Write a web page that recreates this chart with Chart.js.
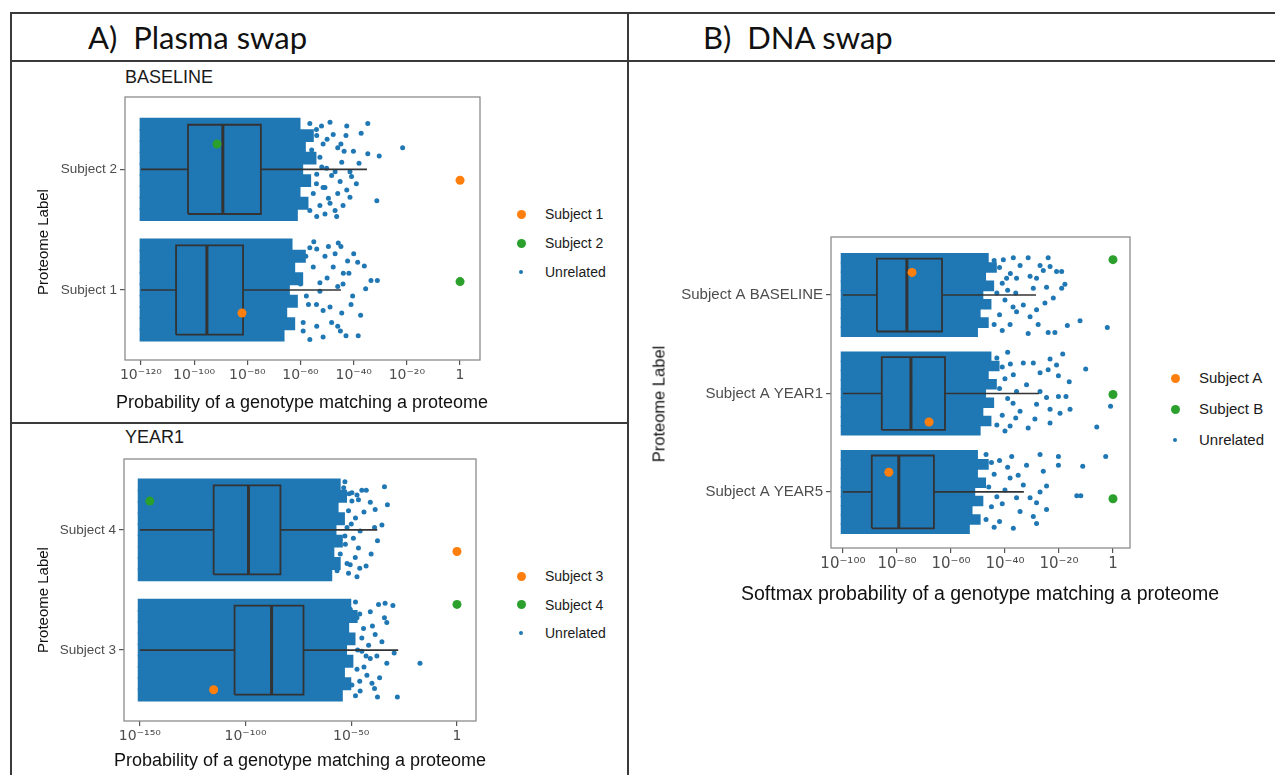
<!DOCTYPE html>
<html lang="en">

<head>
    <meta charset="UTF-8">
    <title>Plasma swap / DNA swap</title>
    <style>
        body { margin: 0; background: #fff; }
        #page { position: relative; width: 1275px; height: 775px; overflow: hidden; font-family: "Liberation Sans", Arial, sans-serif; }
        .ln { position: absolute; background: #3a3a3a; }
        .hdr { position: absolute; font-family: Lato, "Open Sans", sans-serif; font-size: 31px; line-height: 34px; color: #111; white-space: pre; }
        .ptitle { position: absolute; font-size: 18px; line-height: 20px; color: #1a1a1a; }
        .xt { position: absolute; color: #111; white-space: nowrap; transform: translate(-50%, -50%); }
        .yt { position: absolute; color: #111; white-space: nowrap; transform: translate(-50%, -50%) rotate(-90deg); }
        .leg { position: absolute; color: #1a1a1a; white-space: nowrap; }
        .dot { position: absolute; border-radius: 50%; }
        canvas { position: absolute; }
    </style>
</head>

<body>
    <div id="page">
        <div class="ln" style="left:10px;top:12px;width:1265px;height:1.5px"></div>
        <div class="ln" style="left:10px;top:60px;width:1265px;height:1.5px"></div>
        <div class="ln" style="left:10px;top:422px;width:617px;height:1.5px"></div>
        <div class="ln" style="left:10px;top:12px;width:1.5px;height:763px"></div>
        <div class="ln" style="left:627px;top:12px;width:1.5px;height:763px"></div>

        <div class="hdr" style="left:88px;top:20px">A)  Plasma swap</div>
        <div class="hdr" style="left:703px;top:20px">B)  DNA swap</div>
        <div class="ptitle" style="left:125px;top:67px">BASELINE</div>
        <div class="ptitle" style="left:125px;top:427px">YEAR1</div>

        <canvas id="chartBase" width="490" height="358" style="left:12px;top:62px"></canvas>
        <canvas id="chartYear1" width="490" height="351" style="left:12px;top:424px"></canvas>
        <canvas id="chartDna" width="520" height="560" style="left:629px;top:62px"></canvas>

        <div class="xt" style="left:302px;top:402px;font-size:18px">Probability of a genotype matching a proteome</div>
        <div class="xt" style="left:300px;top:760px;font-size:18px">Probability of a genotype matching a proteome</div>
        <div class="xt" style="left:980px;top:593px;font-size:19.5px">Softmax probability of a genotype matching a proteome</div>
        <div class="yt" style="left:42px;top:242px;font-size:15px">Proteome Label</div>
        <div class="yt" style="left:42px;top:600px;font-size:15px">Proteome Label</div>
        <div class="yt" style="left:659px;top:404px;font-size:16.5px">Proteome Label</div>
        <div id="legends"></div>
    </div>

    <script src="https://cdn.jsdelivr.net/npm/chart.js@4.4.1/dist/chart.umd.min.js"></script>
    <script>
        // x values are log10 of the probability, y values are row positions (1 = bottom row)

        // ---- A) Plasma swap, BASELINE ----
        var baseRows = ['Subject 1', 'Subject 2'];
        var baseTicks = [-120, -100, -80, -60, -40, -20, 0];
        // [whisker low, q1, median, q3, whisker high] per row
        var baseBoxes = [
            [-120, -106.8, -95.2, -81.6, -44.8],
            [-120, -102.3, -89.2, -74.9, -35.0]
        ];
        var baseCloudLeft = -120.5;
        // right edge of the dense part of the cloud, top to bottom, per row
        var baseCloudEdge = [
            [-63, -58, -62, -59, -64, -61, -65, -62, -66],
            [-60, -55, -58, -54, -59, -56, -60, -57, -61]
        ];
        var baseUnrelated = [
            [-49.5, 1.36], [-45.8, 1.39], [-44.8, 1.36], [-42.3, 1.24], [-38.5, 1.23], [-43.9, 1.14],
            [-41.8, 1.14], [-47.7, 1.19], [-33.5, 1.08], [-31.1, 1.08], [-35.5, 1.01], [-40.4, 0.95],
            [-44.5, 0.81], [-37.4, 0.79], [-48.3, 0.73], [-42.9, 0.62], [-38.3, 0.62], [-52.7, 0.99],
            [-51.5, 0.83], [-48.9, 0.86], [-53.9, 1.34], [-56.5, 1.35], [-50.8, 1.28], [-55.2, 1.19],
            [-52.7, 1.06], [-57.8, 0.95], [-53.9, 0.70], [-56.5, 0.59], [-51.5, 0.61], [-59.0, 0.73],
            [-58, 1.28], [-60, 1.05], [-57, 0.88], [-59, 0.66], [-55, 1.40], [-54, 0.88],
            [-50, 1.10], [-46, 1.03], [-46, 0.70], [-40, 1.30], [-47, 1.30], [-44, 1.05],
            [-41, 0.88], [-36, 1.20], [-45, 0.66],
            [-48.9, 2.39], [-42.6, 2.36], [-42.9, 2.28], [-34.7, 2.38], [-37.2, 2.30], [-21.6, 2.18],
            [-40.1, 2.15], [-34.7, 2.13], [-30.4, 2.11], [-43.6, 2.15], [-44.8, 2.21], [-47.7, 2.29],
            [-41.4, 1.98], [-40.8, 1.94], [-42.6, 1.83], [-41.4, 1.77], [-31.3, 1.74], [-46.4, 1.61],
            [-47.0, 1.66], [-44.5, 2.06], [-45.1, 1.90], [-48.3, 1.95], [-50.8, 1.85], [-48.9, 1.72],
            [-49.5, 1.76], [-56.5, 2.38], [-52.1, 2.36], [-57.8, 2.27], [-53.9, 2.28], [-51.5, 2.21],
            [-55.8, 2.16], [-52.7, 2.10], [-58.4, 2.07], [-50.2, 2.01], [-53.9, 1.96], [-57.1, 1.90],
            [-51.5, 1.85], [-55.2, 1.80], [-58.4, 1.74], [-52.7, 1.70], [-56.5, 1.66], [-50.8, 1.63],
            [-53.9, 1.61], [-54, 2.33], [-50, 2.25], [-46, 2.18], [-52, 2.02], [-47, 1.98],
            [-54, 1.88], [-46, 1.80], [-44, 1.70], [-38, 2.05], [-39, 1.88]
        ];
        var baseSubject1 = [[-82.0, 0.81], [0, 1.91]];
        var baseSubject2 = [[-91.4, 2.21], [0, 1.07]];

        // ---- A) Plasma swap, YEAR1 ----
        var year1Rows = ['Subject 3', 'Subject 4'];
        var year1Ticks = [-150, -100, -50, 0];
        var year1Boxes = [
            [-150, -105.2, -87.7, -72.6, -27.8],
            [-150, -115.1, -98.6, -83.5, -37.7]
        ];
        var year1CloudLeft = -151;
        var year1CloudEdge = [
            [-50, -47, -51, -48, -52, -49, -53, -50, -54],
            [-55, -52, -56, -53, -57, -54, -58, -55, -59]
        ];
        var year1Unrelated = [
            [-37.1, 1.38], [-34.0, 1.39], [-30.3, 1.37], [-41.0, 1.32], [-33.2, 1.23], [-34.3, 1.27],
            [-38.7, 1.13], [-35.5, 1.07], [-41.8, 1.04], [-37.9, 0.95], [-41.0, 0.93], [-33.2, 0.89],
            [-29.7, 0.975], [-17.5, 0.89], [-28.2, 0.61], [-37.6, 0.61], [-40.2, 0.725], [-42.6, 0.79],
            [-36.6, 0.77], [-45.8, 0.66], [-47.3, 0.84], [-49.7, 0.71], [-44.2, 1.18], [-47.3, 1.27],
            [-45.0, 0.99], [-50.5, 1.34], [-48, 1.40], [-46, 1.30], [-45, 1.10], [-47, 1.00],
            [-44, 0.86], [-46, 0.74], [-48, 0.62], [-43, 0.95], [-40, 1.20], [-39, 0.68],
            [-53.6, 2.35], [-49.7, 2.31], [-47.3, 2.29], [-45.0, 2.33], [-42.9, 2.33], [-34.3, 2.36],
            [-41.0, 2.23], [-32.9, 2.21], [-38.7, 2.17], [-49.7, 2.24], [-46.6, 2.25], [-51.3, 2.16],
            [-39.0, 2.02], [-35.5, 2.04], [-37.6, 1.91], [-40.6, 1.80], [-46.6, 1.85], [-48.1, 1.77],
            [-50.5, 1.71], [-47.3, 1.61], [-51.3, 1.64], [-52.8, 1.88], [-55.2, 1.80], [-52.0, 2.02],
            [-45.8, 1.99], [-56.7, 1.66], [-54.4, 2.27], [-55.2, 2.10], [-53, 2.40], [-51, 2.30],
            [-50, 2.05], [-53, 1.95], [-52, 1.72], [-49, 1.93], [-48, 2.10], [-44, 2.15],
            [-43, 1.70], [-46, 1.68]
        ];
        var year1Subject3 = [[-115.1, 0.67], [0, 1.82]];
        var year1Subject4 = [[-145.3, 2.24], [0, 1.38]];

        // ---- B) DNA swap ----
        var dnaRows = ['Subject A YEAR5', 'Subject A YEAR1', 'Subject A BASELINE'];
        var dnaTicks = [-100, -80, -60, -40, -20, 0];
        var dnaBoxes = [
            [-100, -89.3, -79.3, -66.3, -33.0],
            [-100, -85.6, -74.8, -62.2, -27.4],
            [-100, -87.4, -76.3, -63.3, -28.5]
        ];
        var dnaCloudLeft = -100.8;
        var dnaCloudEdge = [
            [-50, -46, -50, -47, -51, -48, -52, -49, -53],
            [-45, -42, -46, -43, -47, -44, -48, -45, -49],
            [-46, -43, -47, -44, -48, -45, -49, -46, -50]
        ];
        var dnaUnrelated = [
            [-27.0, 1.38], [-20.2, 1.36], [-20.2, 1.27], [-11.2, 1.26], [-2.7, 1.36], [-25.8, 1.21],
            [-24.6, 1.06], [-13.4, 0.96], [-11.9, 0.96], [-30.7, 0.94], [-28.3, 0.89], [-24.6, 0.82],
            [-29.5, 0.75], [-28.3, 0.68], [-27.0, 1.0], [-33.2, 1.07], [-34.4, 0.80], [-35.7, 0.94],
            [-37.5, 1.36], [-38.1, 1.14], [-32.0, 1.27], [-35.1, 1.17], [-36.9, 0.63],
            [-47, 1.38], [-45, 1.30], [-44, 1.18], [-46, 1.05], [-43, 0.95], [-45, 0.85],
            [-47, 0.72], [-44, 0.64], [-42, 1.32], [-41, 0.88], [-40, 1.02], [-42, 0.70], [-39, 1.25],
            [-18.6, 2.40], [-23.3, 2.35], [-20.9, 2.29], [-24.0, 2.24], [-10.1, 2.25], [-16.2, 2.12],
            [-27.0, 2.21], [-29.5, 2.31], [-20.2, 2.18], [-24.6, 1.96], [-20.2, 1.97], [-17.4, 1.97],
            [-23.3, 1.84], [-15.9, 1.84], [-19.6, 1.80], [-28.3, 1.89], [-28.9, 1.74], [-31.4, 1.65],
            [-23.3, 1.70], [-6.0, 1.66], [-0.9, 1.87], [-34.4, 1.82], [-35.7, 2.02], [-32.0, 2.09],
            [-33.2, 2.31], [-27.0, 2.02], [-38.1, 1.67], [-36.9, 2.19],
            [-43, 2.36], [-41, 2.27], [-40, 2.15], [-42, 2.05], [-39, 1.95], [-41, 1.78],
            [-43, 1.68], [-40, 1.62], [-38, 2.30], [-37, 1.90], [-36, 1.75], [-39, 2.42],
            [-24.0, 3.38], [-31.4, 3.38], [-27.0, 3.30], [-23.3, 3.29], [-20.9, 3.24], [-19.0, 3.24],
            [-25.8, 3.25], [-30.7, 3.19], [-35.7, 3.17], [-28.3, 3.17], [-17.8, 3.11], [-19.0, 3.07],
            [-24.6, 3.08], [-29.5, 3.07], [-22.1, 2.97], [-25.2, 2.92], [-28.3, 2.85], [-30.7, 2.78],
            [-27.7, 2.70], [-31.4, 2.61], [-24.0, 2.62], [-21.5, 2.62], [-16.9, 2.69], [-12.2, 2.74],
            [-2.1, 2.67], [-33.2, 2.90], [-35.7, 2.83], [-38.1, 2.70], [-39.4, 3.17], [-34.4, 3.30],
            [-36.9, 3.38], [-40.6, 3.36],
            [-44, 3.35], [-42, 3.28], [-41, 3.12], [-43, 3.02], [-40, 2.95], [-42, 2.80],
            [-44, 2.70], [-41, 2.64], [-39, 3.05], [-38, 3.22], [-37, 2.88], [-36, 3.02]
        ];
        var dnaSubjectA = [[-83.0, 1.20], [-68.1, 1.71], [-74.4, 3.23]];
        var dnaSubjectB = [[0, 0.93], [0, 1.99], [0, 3.36]];

        // ---- styles ----
        var BLUE = '#1f77b4', ORANGE = '#ff7f0e', GREEN = '#2ca02c', BOXC = '#333333';
        var BOX_HALF = 0.37, CLOUD_HALF = 0.42;
        Chart.defaults.font.family = '"Liberation Sans", Arial, sans-serif';

        var SUP = { '-': '\u207B', '0': '\u2070', '1': '\u00B9', '2': '\u00B2', '3': '\u00B3', '4': '\u2074',
            '5': '\u2075', '6': '\u2076', '7': '\u2077', '8': '\u2078', '9': '\u2079' };
        function expLabel(v) {
            if (v === 0) return '1';
            return '10' + String(v).split('').map(function (c) { return SUP[c]; }).join('');
        }

        function dots(list, color, r, order) {
            return {
                data: list.map(function (p) { return { x: p[0], y: p[1] }; }),
                pointRadius: r, pointBackgroundColor: color, pointBorderWidth: 0, order: order
            };
        }
        function seg(list, w) {
            return {
                data: list.map(function (p) { return { x: p[0], y: p[1] }; }),
                showLine: true, pointRadius: 0, borderColor: BOXC, borderWidth: w,
                borderJoinStyle: 'miter', fill: false, order: 1
            };
        }

        function panelDatasets(p) {
            var ds = [dots(p.first, ORANGE, 4.5, 0), dots(p.second, GREEN, 4.5, 0)];
            p.boxes.forEach(function (b, i) {
                var y = i + 1, lo = y - BOX_HALF, hi = y + BOX_HALF;
                ds.push(seg([[b[1], lo], [b[3], lo], [b[3], hi], [b[1], hi], [b[1], lo]], 1.8));
                ds.push(seg([[b[2], lo], [b[2], hi]], 3));
                ds.push(seg([[b[0], y], [b[1], y]], 1.6));
                ds.push(seg([[b[3], y], [b[4], y]], 1.6));
            });
            ds.push(dots(p.unrelated, BLUE, 2.5, 2));
            // dense part of the jittered cloud, as thin floating bars
            var strips = [];
            p.edges.forEach(function (edge, i) {
                var y = i + 1, step = 2 * CLOUD_HALF / edge.length;
                edge.forEach(function (right, k) {
                    strips.push({ x: [p.left, right], y: y + CLOUD_HALF - (k + 0.5) * step });
                });
            });
            ds.push({
                type: 'bar', indexAxis: 'y', data: strips, backgroundColor: BLUE, borderWidth: 0,
                categoryPercentage: 1, barPercentage: 1.15, order: 3
            });
            return ds;
        }

        var framePlugin = {
            id: 'frame',
            afterDatasetsDraw: function (chart) {
                var a = chart.chartArea, ctx = chart.ctx;
                ctx.save();
                ctx.strokeStyle = '#8c8c8c';
                ctx.lineWidth = 1.3;
                ctx.strokeRect(a.left, a.top, a.right - a.left, a.bottom - a.top);
                ctx.restore();
            }
        };

        function makeChart(id, p) {
            return new Chart(document.getElementById(id), {
                type: 'scatter',
                data: { datasets: panelDatasets(p) },
                options: {
                    responsive: false, animation: false, events: [],
                    layout: { padding: { top: p.padTop, right: p.padRight, left: 0, bottom: 0 } },
                    plugins: { legend: { display: false }, tooltip: { enabled: false } },
                    scales: {
                        x: {
                            type: 'linear', position: 'bottom', min: p.xMin, max: p.xMax, offset: false,
                            afterBuildTicks: function (s) { s.ticks = p.ticks.map(function (v) { return { value: v }; }); },
                            afterFit: function (s) { s.height = p.xAxisH; },
                            ticks: { callback: expLabel, autoSkip: false, maxRotation: 0, padding: 2, color: '#4d4d4d',
                                font: { family: '"DejaVu Sans", sans-serif', size: p.xTickSize } },
                            grid: { offset: false, drawOnChartArea: false, tickLength: 5, tickColor: '#555', lineWidth: 1.2 },
                            border: { display: false },
                            title: { display: false }
                        },
                        y: {
                            type: 'linear', position: 'left', min: p.yMin, max: p.yMax, offset: false,
                            afterBuildTicks: function (s) { s.ticks = p.rows.map(function (r, i) { return { value: i + 1 }; }); },
                            afterFit: function (s) { s.width = p.yAxisW; },
                            ticks: { callback: function (v) { return p.rows[v - 1]; }, autoSkip: false, padding: 3,
                                color: '#4d4d4d', font: { size: p.yTickSize } },
                            grid: { offset: false, drawOnChartArea: false, tickLength: 5, tickColor: '#555', lineWidth: 1.2 },
                            border: { display: false },
                            title: { display: false }
                        }
                    }
                },
                plugins: [framePlugin]
            });
        }

        makeChart('chartBase', {
            rows: baseRows, ticks: baseTicks, boxes: baseBoxes, left: baseCloudLeft, edges: baseCloudEdge,
            unrelated: baseUnrelated, first: baseSubject1, second: baseSubject2,
            xMin: -126, xMax: 7.5, yMin: 0.42, yMax: 2.6,
            padTop: 35, padRight: 22, yAxisW: 113, xAxisH: 60, xTickSize: 14, yTickSize: 13.5
        });
        makeChart('chartYear1', {
            rows: year1Rows, ticks: year1Ticks, boxes: year1Boxes, left: year1CloudLeft, edges: year1CloudEdge,
            unrelated: year1Unrelated, first: year1Subject3, second: year1Subject4,
            xMin: -157.5, xMax: 9, yMin: 0.41, yMax: 2.59,
            padTop: 35, padRight: 26, yAxisW: 112, xAxisH: 54, xTickSize: 14, yTickSize: 13.5
        });
        makeChart('chartDna', {
            rows: dnaRows, ticks: dnaTicks, boxes: dnaBoxes, left: dnaCloudLeft, edges: dnaCloudEdge,
            unrelated: dnaUnrelated, first: dnaSubjectA, second: dnaSubjectB,
            xMin: -104.4, xMax: 6.3, yMin: 0.43, yMax: 3.59,
            padTop: 175, padRight: 19, yAxisW: 202, xAxisH: 74, xTickSize: 15, yTickSize: 15
        });

        // legends
        var legendSets = [
            { labels: ['Subject 1', 'Subject 2', 'Unrelated'], x: 521, y: 214, gap: 29, size: 14 },
            { labels: ['Subject 3', 'Subject 4', 'Unrelated'], x: 521, y: 576, gap: 28.5, size: 14 },
            { labels: ['Subject A', 'Subject B', 'Unrelated'], x: 1175, y: 378, gap: 31, size: 15 }
        ];
        var legendColors = [ORANGE, GREEN, BLUE];
        var legendRadius = [4.5, 4.5, 2.2];
        var html = '';
        legendSets.forEach(function (L) {
            L.labels.forEach(function (lab, i) {
                var cy = L.y + i * L.gap, r = legendRadius[i];
                html += '<div class="dot" style="left:' + (L.x - r) + 'px;top:' + (cy - r) + 'px;width:' + (2 * r) +
                    'px;height:' + (2 * r) + 'px;background:' + legendColors[i] + '"></div>';
                html += '<div class="leg" style="left:' + (L.x + 24) + 'px;top:' + (cy - 10) + 'px;font-size:' + L.size +
                    'px;line-height:20px">' + lab + '</div>';
            });
        });
        document.getElementById('legends').innerHTML = html;
    </script>
</body>

</html>
